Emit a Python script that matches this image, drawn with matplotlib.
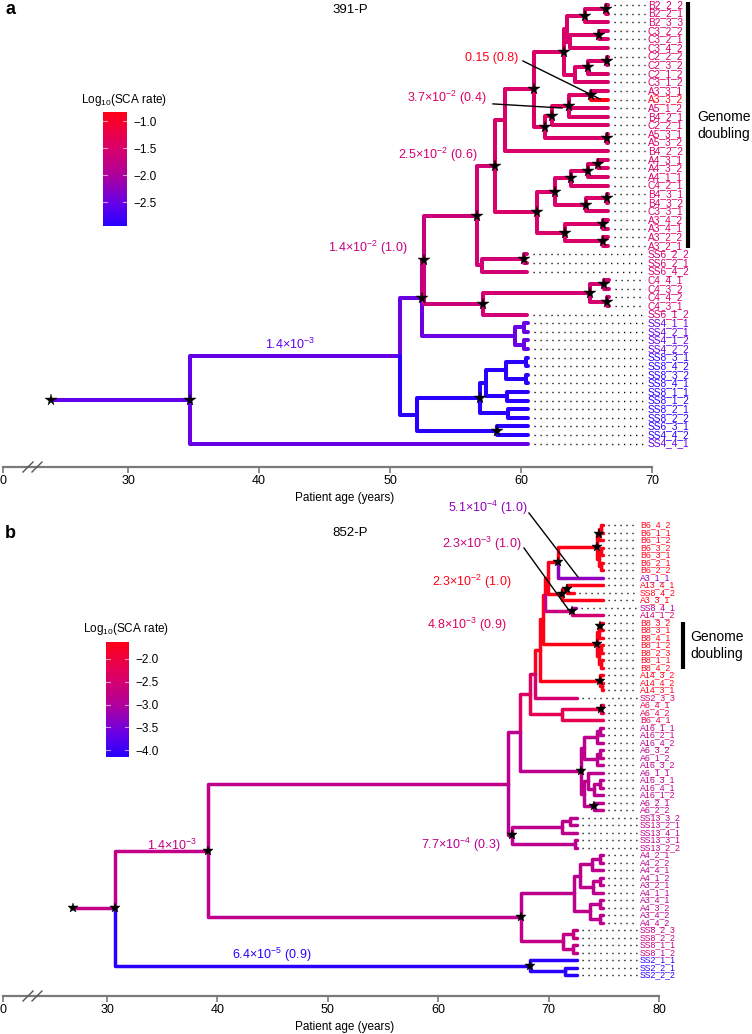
import matplotlib
matplotlib.use("Agg")
import matplotlib.pyplot as plt
from matplotlib.colors import LinearSegmentedColormap, Normalize
from matplotlib.lines import Line2D
from collections import defaultdict
import numpy as np

plt.rcParams['font.family'] = ['Liberation Sans', 'DejaVu Sans']
plt.rcParams['mathtext.default'] = 'regular'

W, H = 752, 1034

# ---------------- data: panel a (391-P) ----------------
tips_a = ["B2_2_2", "B2_2_1", "B2_3_3", "C3_2_2", "C3_2_1", "C3_4_2", "C2_2_2", "C2_3_2",
          "C2_1_2", "C3_1_2", "A3_3_1", "A3_3_2", "A5_1_2", "B4_2_1", "C2_2_1", "A5_3_1",
          "A5_3_2", "B4_2_2", "A4_3_1", "A4_3_2", "A4_1_1", "C4_2_1", "B4_3_1", "B4_3_2",
          "C3_3_1", "A3_4_2", "A3_4_1", "A3_2_2", "A3_2_1", "SS6_2_2", "SS6_2_1", "SS6_4_2",
          "C4_4_1", "C4_3_2", "C4_4_2", "C4_3_1", "SS6_1_2", "SS4_1_1", "SS4_2_1", "SS4_1_2",
          "SS4_2_2", "SS8_3_1", "SS8_4_2", "SS8_3_2", "SS8_4_1", "SS8_1_1", "SS8_1_2",
          "SS8_2_1", "SS8_2_2", "SS6_3_1", "SS4_4_2", "SS4_4_1"]

# (node, parent, age, log10 SCA rate, star)
edges_a = [
    ("R1", None, 24.12, -2.55, 1), ("R2", "R1", 34.73, -2.55, 1),
    ("R3", "R2", 50.76, -2.55, 0), ("SS4_4_1", "R2", 60.53, -2.50, 0),
    ("P", "R3", 52.44, -2.50, 1), ("nd", "R3", 52.06, -3.00, 0),
    ("n31", "P", 52.60, -1.75, 1), ("ss4", "P", 59.54, -2.50, 0),
    ("ss4a", "ss4", 60.23, -2.50, 0), ("ss4b", "ss4", 60.23, -2.50, 0),
    ("SS4_1_1", "ss4a", 60.53, -2.50, 0), ("SS4_2_1", "ss4a", 60.53, -2.50, 0),
    ("SS4_1_2", "ss4b", 60.53, -2.50, 0), ("SS4_2_2", "ss4b", 60.53, -2.50, 0),
    ("n28", "n31", 56.64, -1.65, 1), ("n33", "n31", 57.10, -1.65, 1),
    ("n17", "n28", 58.02, -1.60, 1), ("n29", "n28", 57.02, -1.60, 0),
    ("n30", "n29", 60.23, -1.60, 1), ("SS6_4_2", "n29", 60.46, -1.60, 0),
    ("SS6_2_2", "n30", 60.46, -1.60, 0), ("SS6_2_1", "n30", 60.46, -1.60, 0),
    ("n34", "n33", 65.27, -1.55, 1), ("SS6_1_2", "n33", 60.46, -1.60, 0),
    ("n35", "n34", 66.34, -1.55, 1), ("n36", "n34", 66.56, -1.55, 1),
    ("C4_4_1", "n35", 66.70, -1.55, 0), ("C4_3_2", "n35", 66.70, -1.55, 0),
    ("C4_4_2", "n36", 66.70, -1.55, 0), ("C4_3_1", "n36", 66.70, -1.55, 0),
    ("n16", "n17", 58.78, -1.50, 0), ("n27", "n17", 61.22, -1.50, 1),
    ("n15", "n16", 60.99, -1.50, 1), ("B4_2_2", "n16", 66.64, -1.50, 0),
    ("n9", "n15", 63.28, -1.50, 1), ("n14", "n15", 61.83, -1.45, 1),
    ("n5", "n9", 63.51, -1.50, 0), ("n8", "n9", 64.12, -1.50, 0),
    ("n2", "n5", 64.89, -1.50, 1), ("n4", "n5", 63.74, -1.50, 0),
    ("n1", "n2", 66.49, -1.50, 1), ("B2_3_3", "n2", 66.64, -1.50, 0),
    ("B2_2_2", "n1", 66.64, -1.50, 0), ("B2_2_1", "n1", 66.64, -1.50, 0),
    ("n3", "n4", 65.95, -1.50, 1), ("C3_4_2", "n4", 66.64, -1.50, 0),
    ("C3_2_2", "n3", 66.64, -1.50, 0), ("C3_2_1", "n3", 66.64, -1.50, 0),
    ("n7", "n8", 65.11, -1.50, 1), ("C3_1_2", "n8", 66.64, -1.50, 0),
    ("n6", "n7", 66.56, -1.50, 1), ("C2_1_2", "n7", 66.64, -1.50, 0),
    ("C2_2_2", "n6", 66.64, -1.50, 0), ("C2_3_2", "n6", 66.64, -1.50, 0),
    ("n12", "n14", 62.37, -1.43, 1), ("n13", "n14", 66.56, -1.50, 1),
    ("n11", "n12", 63.66, -1.43, 1), ("C2_2_1", "n12", 66.64, -1.50, 0),
    ("n10", "n11", 65.34, -1.45, 1), ("A5_1_2", "n11", 66.64, -1.50, 0),
    ("B4_2_1", "n11", 66.64, -1.50, 0),
    ("A3_3_1", "n10", 66.64, -1.50, 0), ("A3_3_2", "n10", 66.64, -0.82, 0),
    ("A5_3_1", "n13", 66.64, -1.50, 0), ("A5_3_2", "n13", 66.64, -1.50, 0),
    ("n23", "n27", 62.60, -1.50, 1), ("n26", "n27", 63.36, -1.50, 1),
    ("n20", "n23", 63.82, -1.50, 1), ("n22", "n23", 64.96, -1.50, 1),
    ("n19", "n20", 65.11, -1.50, 1), ("C4_2_1", "n20", 66.64, -1.50, 0),
    ("n18", "n19", 65.88, -1.50, 1), ("A4_1_1", "n19", 66.64, -1.50, 0),
    ("A4_3_1", "n18", 66.64, -1.50, 0), ("A4_3_2", "n18", 66.64, -1.50, 0),
    ("n21", "n22", 66.56, -1.50, 1), ("C3_3_1", "n22", 66.64, -1.50, 0),
    ("B4_3_1", "n21", 66.64, -1.50, 0), ("B4_3_2", "n21", 66.64, -1.50, 0),
    ("n24", "n26", 66.26, -1.50, 1), ("n25", "n26", 66.26, -1.50, 1),
    ("A3_4_2", "n24", 66.64, -1.50, 0), ("A3_4_1", "n24", 66.64, -1.50, 0),
    ("A3_2_2", "n25", 66.64, -1.50, 0), ("A3_2_1", "n25", 66.64, -1.50, 0),
    ("nc", "nd", 56.87, -3.00, 1), ("ne", "nd", 58.17, -3.00, 1),
    ("nb", "nc", 57.33, -3.00, 0), ("nf", "nc", 59.00, -3.00, 0),
    ("na", "nb", 58.85, -3.00, 0), ("ng", "nb", 58.93, -3.00, 0),
    ("nh", "na", 60.38, -3.00, 0), ("ni", "na", 60.38, -3.00, 0),
    ("SS8_3_1", "nh", 60.53, -3.00, 0), ("SS8_4_2", "nh", 60.53, -3.00, 0),
    ("SS8_3_2", "ni", 60.53, -3.00, 0), ("SS8_4_1", "ni", 60.53, -3.00, 0),
    ("SS8_1_1", "ng", 60.53, -3.00, 0), ("SS8_1_2", "ng", 60.53, -3.00, 0),
    ("SS8_2_1", "nf", 60.53, -3.00, 0), ("SS8_2_2", "nf", 60.53, -3.00, 0),
    ("SS6_3_1", "ne", 60.53, -3.00, 0), ("SS4_4_2", "ne", 60.53, -3.00, 0),
]

# (text, age, row, rate, ha)
notes_a = [("0.15 (0.8)", 59.77, 6.16, -0.82, "right"),
           ("3.7×10$^{-2}$ (0.4)", 57.40, 10.8, -1.43, "right"),
           ("2.5×10$^{-2}$ (0.6)", 56.64, 17.44, -1.60, "right"),
           ("1.4×10$^{-2}$ (1.0)", 51.37, 28.26, -1.75, "right"),
           ("1.4×10$^{-3}$", 42.37, 39.5, -2.55, "center")]
leaders_a = [((60.15, 6.51), (66.03, 10.93)), ((57.86, 11.5), (63.13, 11.98))]
ticks_a = [30, 40, 50, 60, 70]
cbar_ticks_a = [-1.0, -1.5, -2.0, -2.5]
rate_range_a = (-2.94, -0.83)

# ---------------- data: panel b (852-P) ----------------
tips_b = ["B6_4_2", "B6_1_1", "B6_1_2", "B6_3_2", "B6_3_1", "B6_2_1", "B6_2_2", "A3_1_1",
          "A13_4_1", "SS8_4_2", "A3_3_1", "SS8_4_1", "A14_1_2", "B8_3_2", "B8_3_1", "B8_4_1",
          "B8_1_2", "B8_2_3", "B8_1_1", "B8_4_2", "A14_3_2", "A14_4_2", "A14_3_1", "SS2_3_3",
          "A6_4_1", "A6_4_2", "B6_4_1", "A16_1_1", "A16_2_1", "A16_4_2", "A6_3_2", "A6_1_2",
          "A16_3_2", "A6_1_1", "A16_3_1", "A16_4_1", "A16_1_2", "A6_2_1", "A6_2_2",
          "SS13_3_2", "SS13_2_1", "SS13_4_1", "SS13_3_1", "SS13_2_2", "A4_2_1", "A4_2_2",
          "A4_4_1", "A4_1_2", "A3_2_1", "A4_1_1", "A3_4_1", "A4_3_2", "A3_4_2", "A4_4_2",
          "SS8_2_3", "SS8_2_2", "SS8_1_1", "SS8_1_2", "SS2_1_1", "SS2_2_1", "SS2_2_2"]

edges_b = [
    ("B0", None, 26.92, -2.75, 1), ("B1", "B0", 30.72, -2.75, 1),
    ("B2", "B1", 39.15, -2.75, 1), ("SS2n", "B1", 68.32, -4.19, 1),
    ("SS2_1_1", "SS2n", 72.57, -4.15, 0), ("SS2a", "SS2n", 71.49, -4.15, 0),
    ("SS2_2_1", "SS2a", 72.57, -4.15, 0), ("SS2_2_2", "SS2a", 72.57, -4.15, 0),
    ("U", "B2", 66.32, -2.80, 0), ("L", "B2", 67.50, -2.85, 1),
    ("Q11", "U", 67.41, -2.85, 0), ("S", "U", 66.68, -2.90, 1),
    ("S2", "S", 71.20, -2.85, 0), ("S3", "S", 72.40, -2.85, 0),
    ("S1", "S2", 71.90, -2.85, 0), ("SS13_4_1", "S2", 72.57, -2.85, 0),
    ("SS13_3_2", "S1", 72.57, -2.85, 0), ("SS13_2_1", "S1", 72.57, -2.85, 0),
    ("SS13_3_1", "S3", 72.57, -2.85, 0), ("SS13_2_2", "S3", 72.57, -2.85, 0),
    ("Q10", "Q11", 68.32, -2.40, 0), ("H7", "Q11", 72.93, -2.85, 1),
    ("H5", "H7", 73.20, -2.85, 0), ("H6", "H7", 73.20, -2.85, 0),
    ("H1", "H5", 74.38, -2.85, 0), ("H2", "H5", 74.38, -2.85, 0),
    ("h11", "H1", 74.66, -2.85, 0), ("A16_4_2", "H1", 74.93, -2.85, 0),
    ("A16_1_1", "h11", 74.93, -2.85, 0), ("A16_2_1", "h11", 74.93, -2.85, 0),
    ("h21", "H2", 74.66, -2.85, 0), ("A16_3_2", "H2", 74.93, -2.85, 0),
    ("A6_3_2", "h21", 74.93, -2.85, 0), ("A6_1_2", "h21", 74.93, -2.85, 0),
    ("H3", "H6", 73.57, -2.85, 0), ("H4", "H6", 74.11, -2.85, 1),
    ("A6_1_1", "H3", 74.93, -2.85, 0), ("h31", "H3", 74.11, -2.85, 0),
    ("h32", "h31", 74.66, -2.85, 0), ("A16_1_2", "h31", 74.93, -2.85, 0),
    ("A16_3_1", "h32", 74.93, -2.85, 0), ("A16_4_1", "h32", 74.93, -2.85, 0),
    ("A6_2_1", "H4", 74.93, -2.85, 0), ("A6_2_2", "H4", 74.93, -2.85, 0),
    ("Q9", "Q10", 68.77, -2.30, 0), ("X", "Q10", 71.20, -2.20, 0),
    ("A6g", "X", 74.75, -2.20, 1), ("B6_4_1", "X", 74.93, -2.20, 0),
    ("A6_4_1", "A6g", 74.93, -2.20, 0), ("A6_4_2", "A6g", 74.93, -2.20, 0),
    ("Q8", "Q9", 69.22, -1.70, 0), ("SS2_3_3", "Q9", 72.57, -2.50, 0),
    ("Q7", "Q8", 69.49, -1.64, 0), ("A14g", "Q8", 74.66, -1.64, 1),
    ("A14_3_2", "A14g", 74.93, -1.64, 0), ("A14a", "A14g", 74.84, -1.64, 0),
    ("A14_4_2", "A14a", 74.93, -1.64, 0), ("A14_3_1", "A14a", 74.93, -1.64, 0),
    ("Q6", "Q7", 69.67, -1.64, 0), ("B8g", "Q7", 74.38, -1.64, 1),
    ("B8b", "B8g", 74.56, -1.64, 0), ("B8e", "B8g", 74.56, -1.64, 0),
    ("B8a", "B8b", 74.66, -1.64, 1), ("B8_4_1", "B8b", 74.93, -1.64, 0),
    ("B8_3_2", "B8a", 74.93, -1.64, 0), ("B8_3_1", "B8a", 74.93, -1.64, 0),
    ("B8c", "B8e", 74.75, -1.64, 0), ("B8d", "B8e", 74.75, -1.64, 0),
    ("B8_1_2", "B8c", 74.93, -1.64, 0), ("B8_2_3", "B8c", 74.93, -1.64, 0),
    ("B8_1_1", "B8d", 74.93, -1.64, 0), ("B8_4_2", "B8d", 74.93, -1.64, 0),
    ("Q5", "Q6", 69.95, -1.64, 0), ("Q4", "Q6", 72.12, -2.64, 1),
    ("SS8_4_1", "Q4", 72.48, -3.00, 0), ("A14_1_2", "Q4", 74.93, -2.50, 0),
    ("Q1", "Q5", 70.85, -1.64, 1), ("Q3", "Q5", 71.21, -1.64, 1),
    ("B6g", "Q1", 74.38, -1.64, 1), ("A3_1_1", "Q1", 74.93, -3.29, 0),
    ("B6b", "B6g", 74.56, -1.64, 1), ("B6e", "B6g", 74.56, -1.64, 0),
    ("B6a", "B6b", 74.75, -1.64, 0), ("B6_1_2", "B6b", 74.93, -1.64, 0),
    ("B6_4_2", "B6a", 74.93, -1.64, 0), ("B6_1_1", "B6a", 74.93, -1.64, 0),
    ("B6c", "B6e", 74.75, -1.64, 0), ("B6d", "B6e", 74.75, -1.64, 0),
    ("B6_3_2", "B6c", 74.93, -1.64, 0), ("B6_3_1", "B6c", 74.93, -1.64, 0),
    ("B6_2_1", "B6d", 74.93, -1.64, 0), ("B6_2_2", "B6d", 74.93, -1.64, 0),
    ("Q2", "Q3", 71.67, -1.64, 1), ("A3_3_1", "Q3", 74.93, -1.64, 0),
    ("A13_4_1", "Q2", 74.93, -1.64, 0), ("SS8_4_2", "Q2", 72.30, -1.64, 0),
    ("A4g", "L", 72.30, -2.85, 0), ("SS8g", "L", 71.30, -2.75, 0),
    ("A4e", "A4g", 72.84, -2.85, 0), ("A4h", "A4g", 73.75, -2.85, 0),
    ("A4b", "A4e", 73.93, -2.85, 0), ("A4d", "A4e", 74.02, -2.85, 0),
    ("A4a", "A4b", 74.66, -2.85, 0), ("A4_4_1", "A4b", 74.93, -2.85, 0),
    ("A4_2_1", "A4a", 74.93, -2.85, 0), ("A4_2_2", "A4a", 74.93, -2.85, 0),
    ("A4c", "A4d", 74.66, -2.85, 0), ("A4_1_1", "A4d", 74.93, -2.85, 0),
    ("A4_1_2", "A4c", 74.93, -2.85, 0), ("A3_2_1", "A4c", 74.93, -2.85, 0),
    ("A4f", "A4h", 74.66, -2.85, 0), ("A4k", "A4h", 74.66, -2.85, 0),
    ("A3_4_1", "A4f", 74.93, -2.85, 0), ("A4_3_2", "A4f", 74.93, -2.85, 0),
    ("A3_4_2", "A4k", 74.93, -2.85, 0), ("A4_4_2", "A4k", 74.93, -2.85, 0),
    ("SS8a", "SS8g", 72.20, -2.75, 0), ("SS8b", "SS8g", 72.20, -2.75, 0),
    ("SS8_2_3", "SS8a", 72.57, -2.75, 0), ("SS8_2_2", "SS8a", 72.57, -2.75, 0),
    ("SS8_1_1", "SS8b", 72.57, -2.75, 0), ("SS8_1_2", "SS8b", 72.57, -2.75, 0),
]

notes_b = [("5.1×10$^{-4}$ (1.0)", 68.04, -2.27, -3.29, "right"),
           ("2.3×10$^{-3}$ (1.0)", 67.50, 2.53, -2.64, "right"),
           ("2.3×10$^{-2}$ (1.0)", 66.68, 7.60, -1.64, "right"),
           ("4.8×10$^{-3}$ (0.9)", 66.14, 13.33, -2.32, "right"),
           ("7.7×10$^{-4}$ (0.3)", 65.60, 42.67, -2.90, "right"),
           ("1.4×10$^{-3}$", 35.89, 42.67, -2.75, "center"),
           ("6.4×10$^{-5}$ (0.9)", 44.95, 57.30, -4.19, "center")]
leaders_b = [((68.22, -1.6), (72.66, 6.93)), ((67.77, 3.07), (71.76, 11.2))]
ticks_b = [30, 40, 50, 60, 70, 80]
cbar_ticks_b = [-2.0, -2.5, -3.0, -3.5, -4.0]
rate_range_b = (-4.15, -1.63)

cmap = LinearSegmentedColormap.from_list(
    "sca", [(0.0, "#2800FF"), (0.2, "#6800E6"), (0.45, "#B0009C"),
            (0.7, "#DC0066"), (1.0, "#FF0018")])


def layout(edges, tips):
    info = {e[0]: e for e in edges}
    kids = defaultdict(list)
    root = None
    for e in edges:
        if e[1] is None:
            root = e[0]
        else:
            kids[e[1]].append(e[0])
    idx = {t: i for i, t in enumerate(tips)}
    y, lo = {}, {}

    def rec(n):
        if n in idx:
            y[n] = float(idx[n]); lo[n] = idx[n]
            return
        for c in kids[n]:
            rec(c)
        kids[n].sort(key=lambda c: lo[c])
        lo[n] = lo[kids[n][0]]
        y[n] = 0.5 * (y[kids[n][0]] + y[kids[n][-1]])
    rec(root)
    return info, y


def px2fig(x0, y0, x1, y1):
    return [x0 / W, 1 - y1 / H, (x1 - x0) / W, (y1 - y0) / H]


def panel(rect, xlim, ylim, edges, tips, rng, ticks, label_x, lw, ms, fs_tip,
          notes, leaders):
    ax = fig.add_axes(rect)
    norm = Normalize(*rng, clip=True)
    info, y = layout(edges, tips)
    for name, par, age, rate, star in edges:
        if par is None:
            continue
        pa = info[par][2]
        ax.plot([pa, pa, age], [y[par], y[name], y[name]], color=cmap(norm(rate)),
                lw=lw, solid_capstyle="round", solid_joinstyle="round", zorder=2)
    for name, par, age, rate, star in edges:
        if star:
            ax.plot(age, y[name], marker="*", color="black", ms=ms, zorder=5,
                    markeredgewidth=0.3, markeredgecolor="black")
    for i, t in enumerate(tips):
        age, rate = info[t][2], info[t][3]
        ax.plot([age + 0.45, label_x - 0.25], [i, i], color="black", lw=1.0,
                ls=(0, (0.9, 3.4)), zorder=1, clip_on=False)
        ax.text(label_x, i, t, color=cmap(norm(rate)), fontsize=fs_tip, va="center",
                ha="left", clip_on=False)
    for txt, xx, yy, rate, ha in notes:
        ax.text(xx, yy, txt, color=cmap(norm(rate)), fontsize=9, ha=ha, va="center",
                clip_on=False)
    for (x0, y0), (x1, y1) in leaders:
        ax.plot([x0, x1], [y0, y1], color="black", lw=1.0, zorder=6, clip_on=False)
    ax.set_xlim(*xlim)
    ax.set_ylim(*ylim)
    for s in ["left", "top", "right"]:
        ax.spines[s].set_visible(False)
    ax.spines["bottom"].set_color("#7a7a7a")
    ax.spines["bottom"].set_linewidth(1.6)
    ax.set_yticks([])
    ax.set_xticks([xlim[0]] + ticks)
    ax.set_xticklabels(["0"] + [str(t) for t in ticks])
    ax.tick_params(axis="x", direction="out", length=4, width=1.2, color="#7a7a7a",
                   labelsize=9, pad=2)
    return ax, norm


def colorbar(rect, norm, ticks, title_xy):
    cax = fig.add_axes(rect)
    grad = np.linspace(norm.vmin, norm.vmax, 256).reshape(-1, 1)
    cax.imshow(grad, aspect="auto", cmap=cmap, norm=norm, origin="lower",
               extent=[0, 1, norm.vmin, norm.vmax])
    cax.set_xlim(0, 1)
    cax.set_ylim(norm.vmin, norm.vmax)
    cax.set_xticks([])
    cax.yaxis.tick_right()
    cax.set_yticks(ticks)
    cax.set_yticklabels([("−%.1f" % abs(t)) for t in ticks])
    cax.tick_params(axis="y", length=0, labelsize=8.5, pad=5)
    for s in cax.spines.values():
        s.set_visible(False)
    for t in ticks:
        cax.plot([0, 0.18], [t, t], color="white", lw=0.8, alpha=0.6)
        cax.plot([0.82, 1], [t, t], color="white", lw=0.8, alpha=0.6)
    fig.text(title_xy[0] / W, 1 - title_xy[1] / H, "Log$_{10}$(SCA rate)",
             fontsize=8.5, ha="center", va="center")


fig = plt.figure(figsize=(W / 100, H / 100), dpi=100)

# panel a: age = 30 + (px-128)/13.1 ; row = (py-5)/8.6
xl_a = 30 + (3 - 128) / 13.1
ax_a, norm_a = panel(px2fig(3, 0, 652, 467), (xl_a, 70), ((467 - 5) / 8.6, -5 / 8.6),
                     edges_a, tips_a, rate_range_a, ticks_a, 30 + (648 - 128) / 13.1,
                     2.9, 8.5, 7.3, notes_a, leaders_a)
ax_a.plot([72.75, 72.75], [-0.35, 28.3], color="black", lw=3, clip_on=False,
          solid_capstyle="butt")
ax_a.text(73.45, 14.0, "Genome\ndoubling", fontsize=10, ha="left", va="center",
          linespacing=1.25)
colorbar(px2fig(103, 112, 127, 226), norm_a, cbar_ticks_a, (124, 100))

# panel b: age = 30 + (px-107)/11.04 ; row = (py-525)/7.5
xl_b = 30 + (3 - 107) / 11.04
ax_b, norm_b = panel(px2fig(3, 518, 659, 996), (xl_b, 80), ((996 - 525) / 7.5, -7 / 7.5),
                     edges_b, tips_b, rate_range_b, ticks_b, 30 + (640 - 107) / 11.04,
                     2.5, 7.5, 6.3, notes_b, leaders_b)
ax_b.plot([82.17, 82.17], [12.93, 19.2], color="black", lw=3, clip_on=False,
          solid_capstyle="butt")
ax_b.text(82.8, 16.1, "Genome\ndoubling", fontsize=10, ha="left", va="center",
          linespacing=1.25)
colorbar(px2fig(106, 642, 129, 757), norm_b, cbar_ticks_b, (126, 629))

# axis break marks, titles, labels
for yb in (467, 996):
    for xb in (23, 32):
        fig.add_artist(Line2D([xb / W, (xb + 10) / W], [1 - (yb + 5) / H, 1 - (yb - 5) / H],
                              color="#555555", lw=1.0))
fig.text(5 / W, 1 - 10 / H, "a", fontsize=13, fontweight="bold", ha="left", va="center")
fig.text(5 / W, 1 - 533 / H, "b", fontsize=13, fontweight="bold", ha="left", va="center")
fig.text(350 / W, 1 - 10 / H, "391-P", fontsize=9.5, ha="center", va="center")
fig.text(350 / W, 1 - 533 / H, "852-P", fontsize=9.5, ha="center", va="center")
fig.text(345 / W, 1 - 498 / H, "Patient age (years)", fontsize=8.5, ha="center",
         va="center")
fig.text(345 / W, 1 - 1027 / H, "Patient age (years)", fontsize=8.5, ha="center",
         va="center")

fig.savefig("out.png", dpi=100)
